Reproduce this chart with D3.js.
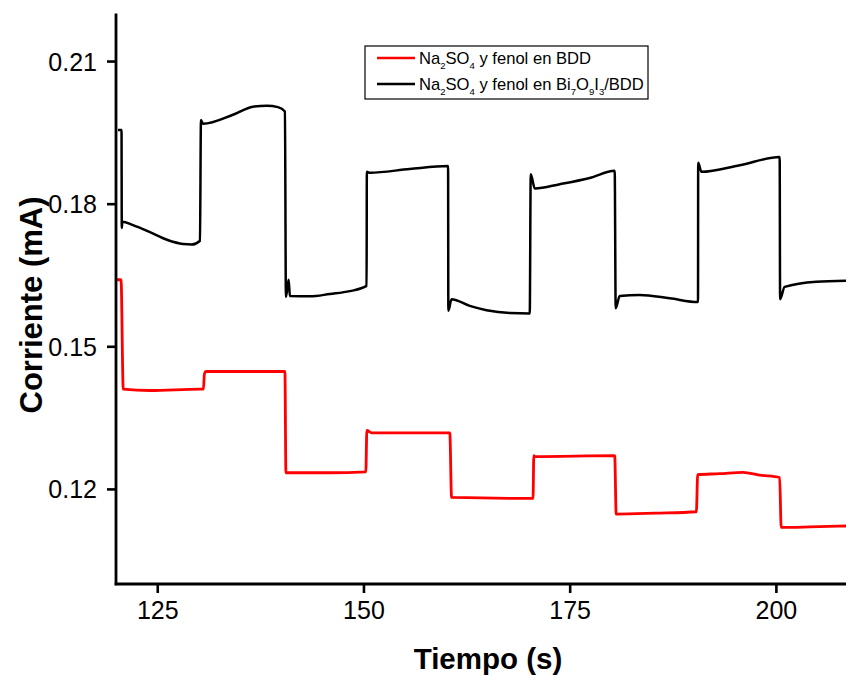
<!DOCTYPE html>
<html>
<head>
<meta charset="utf-8">
<script src="https://cdn.jsdelivr.net/npm/d3@7"></script>
<style>
  html, body { margin: 0; padding: 0; background: #fff; }
  svg { display: block; font-family: Arial, "Liberation Sans", sans-serif; }
</style>
</head>
<body>
<svg id="chart" width="846" height="675"></svg>
<script>
// ---- Data ----
const xTicks = [125, 150, 175, 200];
const yTicks = [0.12, 0.15, 0.18, 0.21];
const xTitle = "Tiempo (s)";
const yTitle = "Corriente (mA)";

// Na2SO4 y fenol en BDD (red)
const bddTime = [120.08, 120.61, 120.88, 124.12, 130.18, 130.60, 130.72, 130.91, 140.48,
  140.60, 145.93, 150.29, 150.41, 150.98, 160.47, 160.68, 170.56, 170.65, 170.77, 180.46,
  180.64, 185.43, 190.36, 190.52, 193.18, 196.01, 198.03, 200.46, 200.64, 204.09, 208.5];
const bddCurrent = [0.1640, 0.1640, 0.1410, 0.1407, 0.1410, 0.1410, 0.1442, 0.1447, 0.1447,
  0.1234, 0.1234, 0.1236, 0.1323, 0.1318, 0.1318, 0.1182, 0.1180, 0.1270, 0.1268, 0.1270,
  0.1147, 0.1149, 0.1152, 0.1230, 0.1232, 0.1235, 0.1229, 0.1224, 0.1119, 0.1120, 0.1122];

// Na2SO4 y fenol en Bi7O9I3/BDD (black)
const biTime = [120.24, 120.67, 120.70, 120.76, 122.06, 124.12, 126.18, 128.12, 129.21, 130.18,
  130.30, 130.54, 134.18, 136.60, 138.30, 139.63, 140.48, 140.60, 140.93, 141.08, 143.51,
  145.93, 148.35, 150.38, 150.41, 150.78, 155.62, 160.26, 160.29, 160.68, 162.89, 164.92,
  167.74, 170.16, 170.28, 170.77, 173.80, 177.43, 180.46, 180.58, 181.07, 183.49, 187.13,
  190.56, 190.58, 190.97, 195.61, 200.46, 200.51, 201.06, 204.90, 208.5];
const biCurrent = [0.1955, 0.1955, 0.1749, 0.1762, 0.1755, 0.1740, 0.1724, 0.1715, 0.1714, 0.1722,
  0.1976, 0.1968, 0.1987, 0.2004, 0.2006, 0.2003, 0.1994, 0.1604, 0.1640, 0.1606, 0.1605,
  0.1610, 0.1616, 0.1627, 0.1867, 0.1865, 0.1873, 0.1879, 0.1575, 0.1599, 0.1585, 0.1576,
  0.1570, 0.1569, 0.1862, 0.1832, 0.1841, 0.1854, 0.1869, 0.1580, 0.1606, 0.1608, 0.1601,
  0.1593, 0.1886, 0.1867, 0.1881, 0.1898, 0.1599, 0.1625, 0.1636, 0.1638];

const seriesColors = ["#ff0000", "#000000"];

// ---- Layout ----
const svg = d3.select("#chart");
const mLeft = 116, mRight = 846, mTop = 13.5, mBottom = 584;

const x = d3.scaleLinear().domain([120, 208.5]).range([mLeft, mRight]);
const y = d3.scaleLinear().domain([0.10, 0.22]).range([mBottom, mTop]);

// Lines
const line = d3.line().x(d => x(d[0])).y(d => y(d[1])).curve(d3.curveMonotoneX);
const series = [
  { data: d3.zip(bddTime, bddCurrent), color: seriesColors[0], w: 2.8 },
  { data: d3.zip(biTime, biCurrent), color: seriesColors[1], w: 2.5 }
];
svg.append("defs").append("clipPath").attr("id", "clip")
  .append("rect").attr("x", mLeft).attr("y", mTop).attr("width", mRight - mLeft).attr("height", mBottom - mTop);
svg.append("g").attr("clip-path", "url(#clip)")
  .selectAll("path").data(series).join("path")
  .attr("d", d => line(d.data))
  .attr("fill", "none")
  .attr("stroke", d => d.color)
  .attr("stroke-width", d => d.w)
  .attr("stroke-linejoin", "round");

// Axes
const xAxis = d3.axisBottom(x).tickValues(xTicks).tickSize(9).tickPadding(8).tickFormat(d3.format("d"));
const yAxis = d3.axisLeft(y).tickValues(yTicks).tickSize(9).tickPadding(10).tickFormat(d3.format(".2f"));

const gx = svg.append("g").attr("transform", `translate(0,${mBottom})`).call(xAxis);
const gy = svg.append("g").attr("transform", `translate(${mLeft},0)`).call(yAxis);
[gx, gy].forEach(g => {
  g.select(".domain").remove();
  g.selectAll(".tick line").attr("stroke", "#000").attr("stroke-width", 2.6);
  g.selectAll(".tick text").attr("fill", "#000").attr("font-size", 25)
    .attr("font-family", "Arial, 'Liberation Sans', sans-serif");
});
gy.selectAll(".tick text").attr("dy", "0.36em");
// spines
svg.append("line").attr("x1", mLeft).attr("x2", mLeft).attr("y1", mTop).attr("y2", mBottom + 1.3)
  .attr("stroke", "#000").attr("stroke-width", 2.8);
svg.append("line").attr("x1", mLeft - 1.3).attr("x2", mRight).attr("y1", mBottom).attr("y2", mBottom)
  .attr("stroke", "#000").attr("stroke-width", 2.8);

// Titles
svg.append("text").attr("x", 488).attr("y", 669)
  .attr("text-anchor", "middle").attr("font-weight", "bold").attr("font-size", 29.5)
  .text(xTitle);
svg.append("text").attr("transform", `translate(42,305) rotate(-90)`)
  .attr("text-anchor", "middle").attr("font-weight", "bold").attr("font-size", 31)
  .text(yTitle);

// Legend
const lg = svg.append("g");
lg.append("rect").attr("x", 365).attr("y", 46).attr("width", 283).attr("height", 53)
  .attr("fill", "#fff").attr("stroke", "#000").attr("stroke-width", 1.2);
const legendRows = [
  [["Na", 0], ["2", 1], ["SO", 0], ["4", 1], [" y fenol en BDD", 0]],
  [["Na", 0], ["2", 1], ["SO", 0], ["4", 1], [" y fenol en Bi", 0], ["7", 1], ["O", 0], ["9", 1], ["I", 0], ["3", 1], ["/BDD", 0]]
];
legendRows.forEach((parts, i) => {
  const cy = 58 + i * 26;
  lg.append("line").attr("x1", 377).attr("x2", 415).attr("y1", cy).attr("y2", cy)
    .attr("stroke", seriesColors[i]).attr("stroke-width", 2.6);
  const t = lg.append("text").attr("x", 419).attr("y", cy + 6).attr("font-size", 16.6).attr("fill", "#000");
  let prevSub = 0;
  parts.forEach(([s, sub]) => {
    const ts = t.append("tspan").text(s);
    if (sub) ts.attr("font-size", 9.5).attr("dy", prevSub ? 0 : 5);
    else ts.attr("dy", prevSub ? -5 : 0);
    prevSub = sub;
  });
});
</script>
</body>
</html>
